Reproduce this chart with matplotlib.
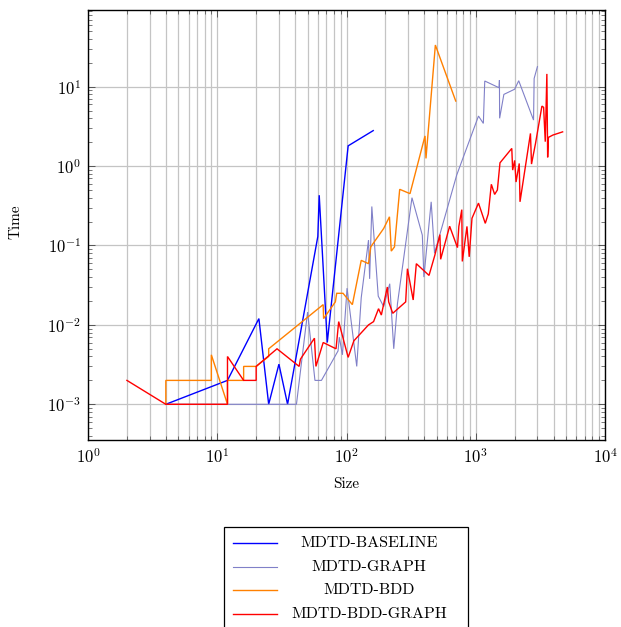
import numpy as np
import matplotlib
matplotlib.use('Agg')
import matplotlib.pyplot as plt
from matplotlib.ticker import LogLocator, FuncFormatter, NullFormatter
from matplotlib.lines import Line2D
from matplotlib.patches import Rectangle

# ---------------- data ----------------
baseline_x = [4, 12, 21, 25, 30, 35, 60, 61.5, 71, 103, 161]
baseline_y = [0.001, 0.002, 0.012, 0.001, 0.0032, 0.001, 0.13, 0.43, 0.006, 1.8, 2.8]

graph_x = [4, 12, 41, 50, 57, 64, 86, 88, 93, 101, 120, 130, 148, 151, 157, 176, 194,
           216, 232, 248, 321, 386, 397, 452, 480, 712, 1050, 1145, 1174, 1515, 1525,
           1530, 1650, 2000, 2150, 2800, 2830, 3000]
graph_y = [0.001, 0.001, 0.001, 0.0145, 0.002, 0.002, 0.0047, 0.007, 0.0042, 0.029, 0.003,
           0.022, 0.117, 0.038, 0.31, 0.023, 0.017, 0.033, 0.005, 0.0186, 0.40, 0.135, 0.04,
           0.355, 0.08, 0.77, 4.27, 3.45, 11.8, 9.7, 12.1, 4.0, 8.0, 9.3, 11.9, 3.8, 12.7, 17.9]

bdd_x = [4, 4, 9, 9, 12, 12, 16, 16, 20, 25, 25, 66, 66.5, 82, 84, 94, 111, 130, 148, 154,
         194, 215, 222, 235, 258, 310, 405, 412, 487, 700]
bdd_y = [0.001, 0.002, 0.002, 0.0042, 0.001, 0.002, 0.002, 0.003, 0.003, 0.004, 0.005, 0.018,
         0.012, 0.0195, 0.025, 0.025, 0.018, 0.065, 0.059, 0.096, 0.164, 0.23, 0.085, 0.096,
         0.51, 0.45, 2.4, 1.25, 33.5, 6.6]

bddgraph_x = [2, 4, 12, 12, 16, 20, 20, 29, 43, 44, 56.5, 58, 66, 83, 87, 103, 114, 148, 162,
              177, 186, 207, 212, 228, 287, 296, 328, 347, 435, 482, 528, 535, 628, 722, 740,
              780, 787, 855, 890, 935, 1050, 1185, 1250, 1320, 1400, 1470, 1540, 1900, 1930,
              2000, 2050, 2170, 2200, 2650, 2700, 2900, 3250, 3350, 3450, 3550, 3600, 3650,
              3950, 4700]
bddgraph_y = [0.002, 0.001, 0.001, 0.004, 0.002, 0.002, 0.003, 0.005, 0.003, 0.0037, 0.0068,
              0.003, 0.006, 0.005, 0.011, 0.0039, 0.0063, 0.010, 0.011, 0.016, 0.0133, 0.030,
              0.0195, 0.014, 0.0195, 0.051, 0.0206, 0.059, 0.042, 0.075, 0.137, 0.067, 0.175,
              0.094, 0.174, 0.283, 0.063, 0.174, 0.072, 0.22, 0.342, 0.19, 0.25, 0.59, 0.44,
              0.5, 1.1, 1.67, 0.89, 1.18, 0.63, 1.08, 0.355, 2.58, 1.06, 1.93, 5.7, 5.5, 2.03,
              14.5, 1.29, 2.3, 2.46, 2.7]

labels = ['MDTD-BASELINE', 'MDTD-GRAPH', 'MDTD-BDD', 'MDTD-BDD-GRAPH']
colors = ['#0000ff', '#8080c8', '#ff8000', '#ff0000']
widths = [1.0, 0.8, 1.0, 1.0]

# ---------------- style ----------------
plt.rcParams['mathtext.fontset'] = 'cm'
plt.rcParams['font.family'] = ['cmr10', 'DejaVu Serif']
plt.rcParams['axes.formatter.use_mathtext'] = True

W, H = 621, 627
fig = plt.figure(figsize=(W / 100, H / 100), dpi=100)
L, R, T, B = 88, 605, 10, 440
ax = fig.add_axes([L / W, 1 - B / H, (R - L) / W, (B - T) / H])

data = [(baseline_x, baseline_y), (graph_x, graph_y), (bdd_x, bdd_y), (bddgraph_x, bddgraph_y)]
for (x, y), c, lw in zip(data, colors, widths):
    ax.plot(x, y, color=c, lw=lw, solid_joinstyle='miter')

ax.set_xscale('log')
ax.set_yscale('log')
ax.set_xlim(1, 1e4)
ax.set_ylim(3.55e-4, 92.5)

for axis in (ax.xaxis, ax.yaxis):
    axis.set_major_locator(LogLocator(base=10, numticks=30))
    axis.set_minor_locator(LogLocator(base=10, subs=np.arange(2, 10), numticks=200))
    axis.set_minor_formatter(NullFormatter())
    axis.set_major_formatter(FuncFormatter(lambda v, p: r'$10^{%d}$' % int(round(np.log10(v)))))

ax.set_axisbelow(True)
ax.grid(True, which='major', axis='both', color='#c4c4c4', lw=0.9)
ax.grid(True, which='minor', axis='x', color='#c4c4c4', lw=0.9)

ax.tick_params(which='both', direction='in', top=True, right=True, color='#444444')
ax.tick_params(which='major', length=5, width=0.6, labelsize=12, pad=5)
ax.tick_params(which='minor', length=3, width=0.5)
for s in ax.spines.values():
    s.set_linewidth(1.0)
    s.set_color('black')

ax.set_xlabel('Size', fontsize=11)
ax.set_ylabel('Time', fontsize=11)
ax.xaxis.set_label_coords(0.5, (B - 477) / (B - T))
ax.yaxis.set_label_coords((22 - L) / (R - L), (B - 222) / (B - T))

# ---------------- legend ----------------
def fx(px):
    return px / W

def fy(py):
    return 1 - py / H

box = Rectangle((fx(224), fy(645)), (468 - 224) / W, (645 - 527) / H,
                transform=fig.transFigure, facecolor='white', edgecolor='black', lw=0.9)
fig.add_artist(box)
rows = [543, 567, 590, 614]
for r, lab, c, lw in zip(rows, labels, colors, widths):
    fig.add_artist(Line2D([fx(233), fx(277)], [fy(r), fy(r)], transform=fig.transFigure,
                          color=c, lw=lw))
    fig.text(fx(369), fy(r), lab, ha='center', va='center', fontsize=11.5)

fig.savefig('out.png', dpi=100)
